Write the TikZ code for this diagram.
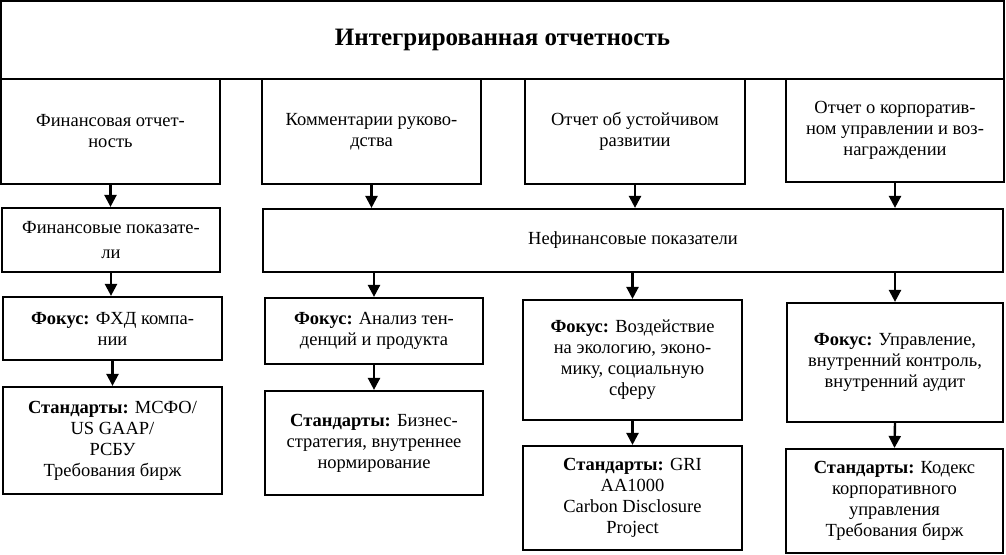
\documentclass[tikz,border=0pt]{standalone}
\usepackage{fontspec}
\setmainfont{Liberation Serif}
\usetikzlibrary{arrows.meta}
\begin{document}
\begin{tikzpicture}[x=1pt,y=-1pt,
    box/.style={draw, line width=2.2pt, align=center, inner sep=2pt,
      font={\fontsize{18.5}{21}\selectfont}},
    arr/.style={line width=2.4pt, -{Triangle[length=12pt,width=12pt]}}]
    \useasboundingbox (0,0) rectangle (1006,554);
    % title
    \node [box, minimum width=1003pt, minimum height=78pt, font={\fontsize{25}{28}\selectfont\bfseries}] (ir) at (502.5,40) {Интегрированная отчетность};
    % row of reports
    \node [box, minimum width=219pt, minimum height=105pt] (fo) at (110.5,131.5) {Финансовая отчет-\\ность};
    \node [box, minimum width=219pt, minimum height=105pt] (kr) at (371.5,131.5) {Комментарии руково-\\дства};
    \node [box, minimum width=220pt, minimum height=105pt] (ur) at (635,131.5) {Отчет об устойчивом\\развитии};
    \node [box, minimum width=218pt, minimum height=103pt] (ku) at (895,130.5) {Отчет о корпоратив-\\ном управлении и воз-\\награждении};
    % indicators
    \node [box, minimum width=218pt, minimum height=64pt, font={\fontsize{18.5}{25}\selectfont}] (fp) at (111,240) {Финансовые показате-\\ли};
    \node [box, minimum width=740pt, minimum height=63pt] (nf) at (633,240.5) {Нефинансовые показатели};
    % focus
    \node [box, minimum width=219pt, minimum height=63pt] (f1) at (112.5,328.5) {\textbf{Фокус:} ФХД компа-\\нии};
    \node [box, minimum width=218pt, minimum height=66pt] (f2) at (374,331) {\textbf{Фокус:} Анализ тен-\\денций и продукта};
    \node [box, minimum width=219pt, minimum height=120pt] (f3) at (632.5,360) {\textbf{Фокус:} Воздействие\\на экологию, эконо-\\мику, социальную\\сферу};
    \node [box, minimum width=216pt, minimum height=119pt] (f4) at (895,362.5) {\textbf{Фокус:} Управление,\\внутренний контроль,\\внутренний аудит};
    % standards
    \node [box, minimum width=219pt, minimum height=107pt] (s1) at (112.5,440.5) {\textbf{Стандарты:} МСФО/\\US GAAP/\\РСБУ\\Требования бирж};
    \node [box, minimum width=218pt, minimum height=104pt] (s2) at (374,443) {\textbf{Стандарты:} Бизнес-\\стратегия, внутреннее\\нормирование};
    \node [box, minimum width=219pt, minimum height=104pt] (s3) at (632.5,498) {\textbf{Стандарты:} GRI\\AA1000\\Carbon Disclosure\\Project};
    \node [box, minimum width=217pt, minimum height=104pt] (s4) at (894.5,501) {\textbf{Стандарты:} Кодекс\\корпоративного\\управления\\Требования бирж};
    % arrows
    \draw [arr] (fo.south) -- (fo.south |- fp.north);
    \draw [arr] (kr.south) -- (kr.south |- nf.north);
    \draw [arr] (ur.south) -- (ur.south |- nf.north);
    \draw [arr] (ku.south) -- (ku.south |- nf.north);
    \draw [arr] (fp.south) -- (fp.south |- f1.north);
    \draw [arr] (f2.north |- nf.south) -- (f2.north);
    \draw [arr] (f3.north |- nf.south) -- (f3.north);
    \draw [arr] (f4.north |- nf.south) -- (f4.north);
    \draw [arr] (f1.south) -- (s1.north);
    \draw [arr] (f2.south) -- (s2.north);
    \draw [arr] (f3.south) -- (s3.north);
    \draw [arr] (f4.south) -- (s4.north);
\end{tikzpicture}
\end{document}
